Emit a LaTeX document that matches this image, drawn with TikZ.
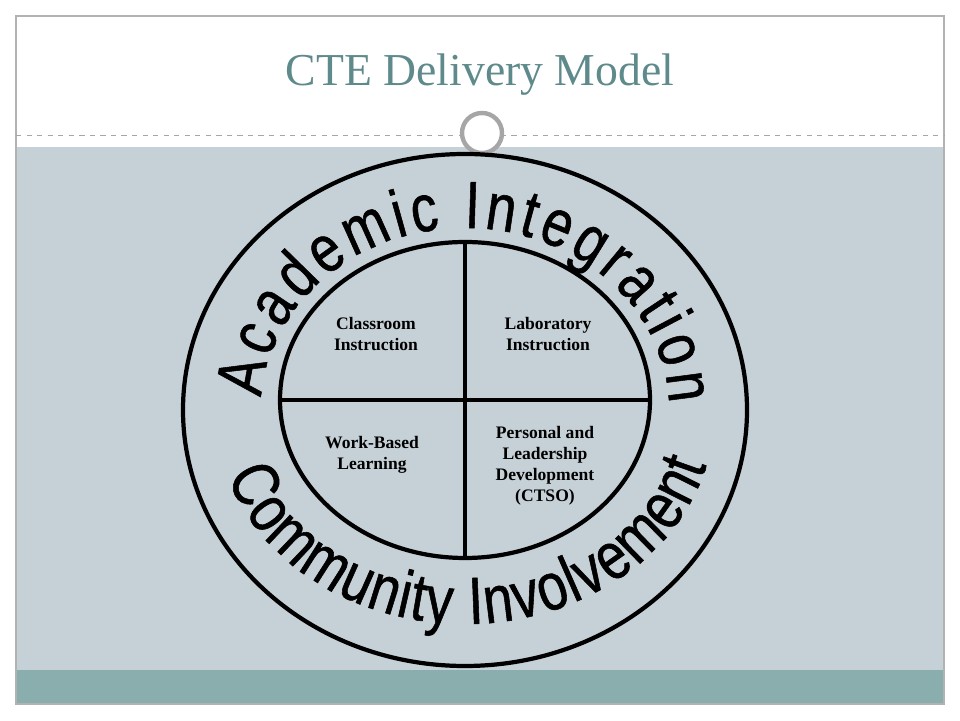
\documentclass[tikz,border=0pt]{standalone}
\usepackage{fontspec}
\setmainfont{Liberation Serif}
\setsansfont{Liberation Sans}
\newfontfamily\arcfont[FakeStretch=0.8, FakeBold=0.8]{Liberation Sans}
\usetikzlibrary{decorations.text}
\definecolor{titlecol}{HTML}{5F8A8B}
\definecolor{bandcol}{HTML}{C6D1D7}
\definecolor{footcol}{HTML}{8AADAE}
\tikzset{
  ring/.style={draw=black, line width=2.4pt},
  quad/.style={font=\bfseries\fontsize{10}{12}\selectfont, align=center},
  arctext/.style={decorate, decoration={text along path, text align=fit to path,
      text={|\arcfont\fontsize{38}{40}\selectfont|#1}}}
}
\begin{document}
\begin{tikzpicture}[x=0.02cm, y=0.02cm]
    \useasboundingbox (0,0) rectangle (960,720);
    \fill[white] (0,0) rectangle (960,720);

    % slide frame and bands
    \fill[bandcol] (16,50) rectangle (944,573);
    \fill[footcol] (16,16) rectangle (944,50);
    \draw[gray!60, line width=0.6pt] (16,16) rectangle (944,704);
    \draw[gray!70, dashed, line width=0.5pt] (16,585) -- (944,585);
    \node[text=titlecol, font=\fontsize{26}{30}\selectfont] (title) at (480,645) {CTE Delivery Model};
    \node[circle, draw=gray!70, fill=white, line width=2.5pt, minimum size=0.8cm] (knob) at (482,587) {};

    % rings
    \coordinate (mid) at (465,310);
    \draw[ring] (mid) ellipse [x radius=282, y radius=256];
    \draw[ring] (465,320) ellipse [x radius=185, y radius=158];
    \coordinate (qtop) at (465,478);
    \coordinate (qbot) at (465,162);
    \coordinate (qleft) at (280,320);
    \coordinate (qright) at (650,320);
    \draw[ring] (qtop) -- (qbot);
    \draw[ring] (qleft) -- (qright);

    % quadrant labels
    \node[quad] (classroom) at (376,386) {Classroom\\Instruction};
    \node[quad] (lab) at (548,386) {Laboratory\\Instruction};
    \node[quad] (wbl) at (372,265) {Work-Based\\Learning};
    \node[quad] (ctso) at (545,254) {Personal and\\Leadership\\Development\\(CTSO)};

    % curved words
    \path[arctext={Academic  Integration}] ([shift={(176:204 and 182)}]465,310)
        arc [start angle=176, end angle=2, x radius=204, y radius=182];
    \path[arctext={Community  Involvement}] ([shift={(198:250 and 214)}]465,310)
        arc [start angle=198, end angle=345, x radius=250, y radius=214];
\end{tikzpicture}
\end{document}
